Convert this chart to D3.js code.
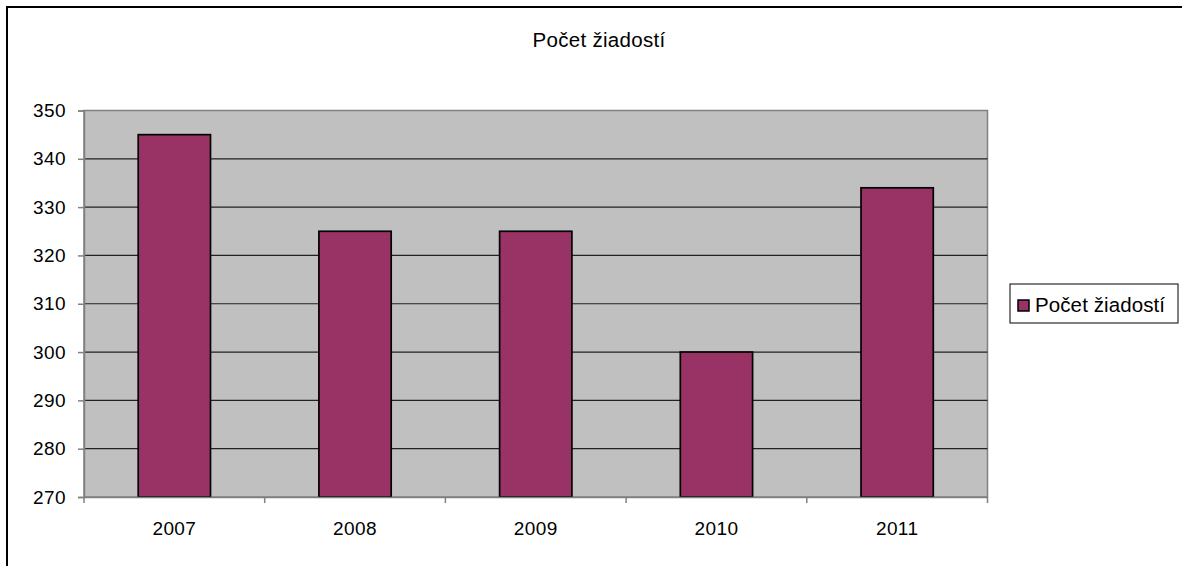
<!DOCTYPE html>
<html><head><meta charset="utf-8">
<script src="https://cdn.jsdelivr.net/npm/d3@7"></script>
<style>body{margin:0;background:#fff}svg{display:block;font-family:"Liberation Sans",Arial,sans-serif}</style>
</head><body><svg id="c" width="1182" height="566"></svg>
<script>
const title = "Počet žiadostí";
const seriesName = "Počet žiadostí";
const categories = ["2007","2008","2009","2010","2011"];
const values = [345, 325, 325, 300, 334];
const yTicks = [270,280,290,300,310,320,330,340,350];

const svg = d3.select("#c");
const W = 1182, H = 566;
const L = 84, R = 987.5, T = 110.5, B = 497;

svg.append("rect").attr("x",7).attr("y",7).attr("width",W+10).attr("height",H+10)
  .attr("fill","#fff").attr("stroke","#000").attr("stroke-width",2);

svg.append("text").attr("x",599).attr("y",47).attr("text-anchor","middle")
  .attr("font-size",20.5).attr("letter-spacing",0.3).attr("fill","#000").text(title);

const x = d3.scaleBand().domain(categories).range([L,R]).paddingInner(0.6).paddingOuter(0.3);
const xb = d3.scaleBand().domain(categories).range([L,R]);
const y = d3.scaleLinear().domain([270,350]).range([B,T]);

svg.append("rect").attr("x",L).attr("y",T).attr("width",R-L).attr("height",B-T)
  .attr("fill","#c0c0c0").attr("stroke","#808080").attr("stroke-width",1.5);

svg.append("g").selectAll("line").data(yTicks.filter(d=>d>270&&d<350)).join("line")
  .attr("x1",L).attr("x2",R).attr("y1",d=>y(d)).attr("y2",d=>y(d))
  .attr("stroke","#222").attr("stroke-width",1.2);

svg.append("g").selectAll("rect").data(values).join("rect")
  .attr("x",(d,i)=>x(categories[i])).attr("width",x.bandwidth())
  .attr("y",d=>y(d)).attr("height",d=>B-y(d))
  .attr("fill","#993366").attr("stroke","#000").attr("stroke-width",1.7);

const ya = d3.axisLeft(y).tickValues(yTicks).tickSize(6).tickPadding(12).tickFormat(d3.format("d"));
const gy = svg.append("g").attr("transform",`translate(${L},0)`).call(ya);
gy.select(".domain").attr("stroke","#808080").attr("stroke-width",1.5);
gy.selectAll(".tick line").attr("stroke","#808080").attr("stroke-width",1.5);
gy.selectAll("text").attr("font-size",19).attr("letter-spacing",0.4).attr("fill","#000")
  .attr("font-family","Liberation Sans, Arial, sans-serif");

const xa = d3.axisBottom(xb).tickSize(0).tickPadding(25);
const gx = svg.append("g").attr("transform",`translate(0,${B})`).call(xa);
gx.select(".domain").attr("stroke","#808080").attr("stroke-width",1.5);
gx.selectAll("text").attr("font-size",19).attr("letter-spacing",0.4).attr("fill","#000")
  .attr("font-family","Liberation Sans, Arial, sans-serif");
svg.append("g").selectAll("line").data(categories.concat(["end"])).join("line")
  .attr("x1",(d,i)=>L+i*xb.step()).attr("x2",(d,i)=>L+i*xb.step())
  .attr("y1",B).attr("y2",B+6).attr("stroke","#808080").attr("stroke-width",1.5);

const lg = svg.append("g");
lg.append("rect").attr("x",1010).attr("y",284).attr("width",168).attr("height",39)
  .attr("fill","#fff").attr("stroke","#000").attr("stroke-width",1);
lg.append("rect").attr("x",1018).attr("y",300).attr("width",11).attr("height",11)
  .attr("fill","#993366").attr("stroke","#000").attr("stroke-width",1.5);
lg.append("text").attr("x",1035).attr("y",311.5).attr("font-size",20.5).attr("letter-spacing",0.1)
  .attr("fill","#000").text(seriesName);
</script></body></html>
